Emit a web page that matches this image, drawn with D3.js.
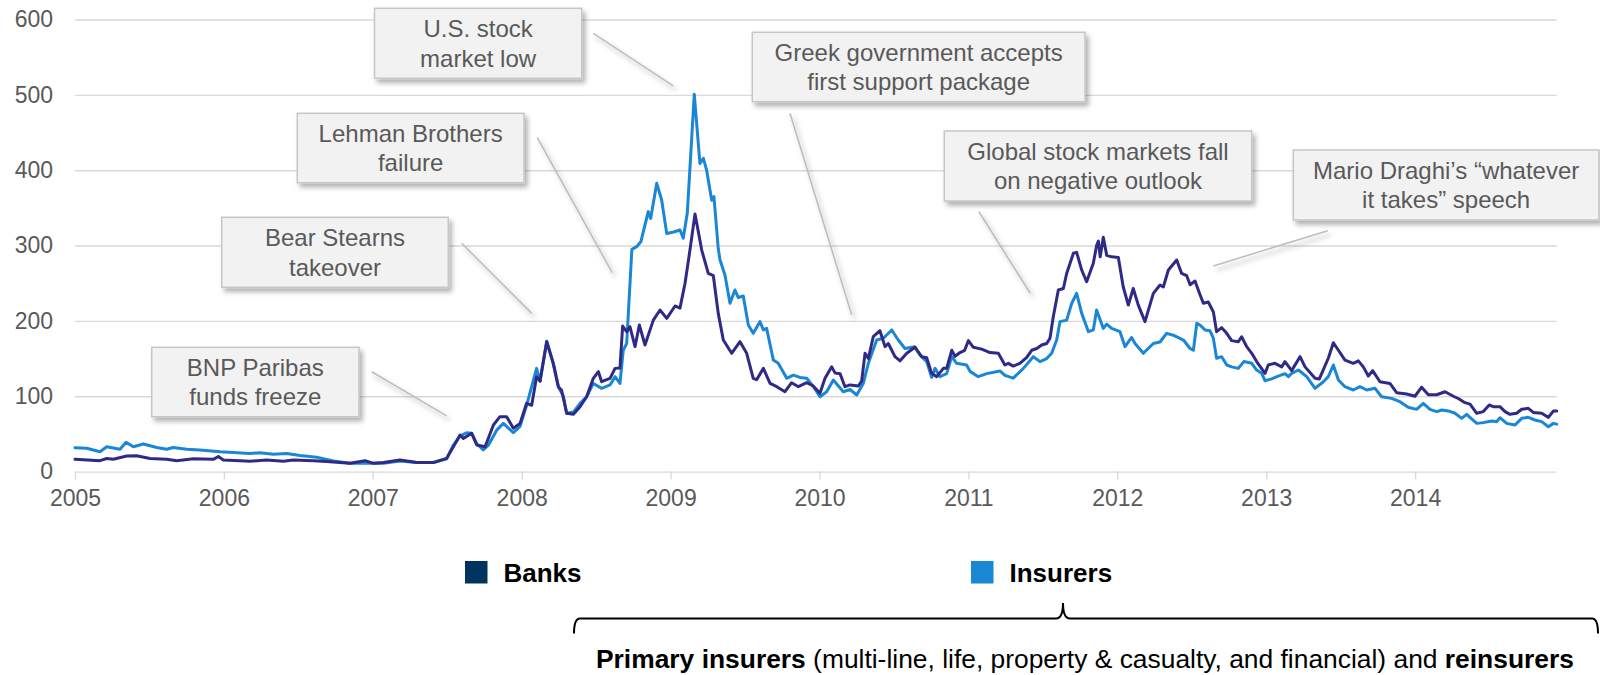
<!DOCTYPE html>
<html>
<head>
<meta charset="utf-8">
<script src="https://cdn.jsdelivr.net/npm/d3@7"></script>
<style>
  html, body { margin: 0; padding: 0; background: #fff; }
  svg { display: block; font-family: "Liberation Sans", Arial, Helvetica, sans-serif; }
</style>
</head>
<body>
<svg id="chart" width="1600" height="675"></svg>
<script>
// ---- Data -------------------------------------------------------------
const yearTicks  = [2005, 2006, 2007, 2008, 2009, 2010, 2011, 2012, 2013, 2014];
const valueTicks = [0, 100, 200, 300, 400, 500, 600];
const seriesNames = ["Banks", "Insurers"];

// Banks: time (decimal year) and index level
const banksYears = [
  2005.000,2005.168,2005.213,2005.257,2005.347,2005.414,2005.504,2005.616,2005.683,2005.795,2005.929,2005.963,2005.996,
  2006.108,2006.175,2006.287,2006.399,2006.466,2006.601,2006.690,2006.847,2006.948,
  2007.004,2007.071,2007.183,2007.295,2007.406,2007.496,2007.541,2007.586,2007.608,2007.664,2007.698,2007.754,2007.810,2007.854,2007.899,2007.944,2007.989,
  2008.033,2008.067,2008.100,2008.123,2008.168,2008.212,2008.246,2008.268,2008.302,2008.347,2008.392,2008.436,2008.481,2008.515,2008.537,2008.593,2008.627,2008.660,2008.678,2008.705,2008.727,2008.761,2008.790,2008.828,2008.884,2008.929,2008.974,
  2009.030,2009.063,2009.097,2009.130,2009.164,2009.209,2009.253,2009.287,2009.320,2009.354,2009.410,2009.466,2009.511,2009.555,2009.578,2009.623,2009.668,2009.713,2009.768,2009.813,2009.858,2009.914,2009.958,
  2010.003,2010.037,2010.082,2010.104,2010.138,2010.171,2010.205,2010.261,2010.283,2010.306,2010.328,2010.361,2010.406,2010.440,2010.462,2010.507,2010.541,2010.586,2010.641,2010.686,2010.720,2010.753,2010.787,2010.832,2010.854,2010.888,2010.910,2010.944,2010.975,
  2011.000,2011.033,2011.089,2011.145,2011.201,2011.245,2011.268,2011.301,2011.346,2011.392,2011.425,2011.459,2011.492,2011.526,2011.548,2011.570,2011.604,2011.638,2011.660,2011.705,2011.727,2011.761,2011.794,2011.839,2011.861,2011.873,2011.885,2011.906,2011.929,2011.962,
  2012.007,2012.040,2012.074,2012.107,2012.141,2012.186,2012.242,2012.287,2012.309,2012.343,2012.399,2012.432,2012.466,2012.489,2012.522,2012.555,2012.578,2012.611,2012.645,2012.667,2012.701,2012.735,2012.768,2012.813,2012.835,2012.869,2012.903,2012.936,2012.992,
  2013.014,2013.059,2013.104,2013.126,2013.171,2013.227,2013.261,2013.328,2013.357,2013.417,2013.451,2013.485,2013.529,2013.585,2013.619,2013.652,2013.686,2013.715,2013.764,2013.831,2013.876,2013.943,2013.999,
  2014.044,2014.089,2014.145,2014.201,2014.257,2014.290,2014.335,2014.369,2014.414,2014.458,2014.498,2014.525,2014.570,2014.604,2014.637,2014.682,2014.716,2014.760,2014.794,2014.850,2014.895,2014.929,2014.951
];
const banksValues = [
  16.3,14.5,17.4,16.3,20.7,21,17.4,16.3,14.5,17,16.3,20,15.5,
  14.5,13.7,15.5,13.7,15.5,14.5,13.3,11,14.5,
  11,12,15.5,12,12,17.6,33,48.6,44,50.8,35.3,33,61.8,72.9,72.9,57.5,64,
  90.6,88,126,120,172.4,143.7,112.7,108,77.4,76,86,99.4,123.8,132.6,119.3,123.8,137,137.5,193.2,185.7,192.3,165.8,194.6,168,201,214.5,203.4,
  219.8,217,250,294,342,294,263,260,210,174.6,157,172.4,157,123.8,122,137,117,112.7,106,118,112.7,118,113.6,
  104,123.8,139,131,130,112.7,115,113.6,120,157,150,179,187,165.8,170,152.5,147,157,165,152.5,151,130.4,126,137,137,161,153,158,161,
  173.8,165,162.5,158,157,141.5,143.7,140,143.7,151.6,161,163.4,168,170,177,205.6,241,243,263,289.7,291,267.5,252,276.5,300,306,285,311,287,285,
  284,245,221,243,221,199,236.6,247.6,245,267.5,280.8,263,260,248,253,235,223.4,225,212,185.7,191,183.5,173.8,172.4,179,165.8,157,146,130.4,
  141.5,143.7,139,145.9,134,152.5,139,123.8,123,150.4,171,161,148,143.7,147,139,126.8,134,119.3,117,104.7,103,100,
  112,102,102,106,100,97,91.5,89.6,77.4,79.6,88.4,86.2,86.2,79.6,76,77.4,82.7,84,78.5,77.4,72,80.4,80.4
];

// Insurers: time (decimal year) and index level
const insurersYears = [
  2005.000,2005.078,2005.168,2005.213,2005.302,2005.343,2005.392,2005.459,2005.549,2005.616,2005.660,2005.750,2005.839,2005.974,
  2006.063,2006.175,2006.242,2006.332,2006.422,2006.511,2006.623,2006.735,2006.847,2006.959,
  2007.071,2007.183,2007.295,2007.406,2007.496,2007.541,2007.586,2007.630,2007.664,2007.698,2007.742,2007.776,2007.832,2007.877,2007.944,2007.989,
  2008.033,2008.100,2008.123,2008.168,2008.212,2008.246,2008.280,2008.302,2008.347,2008.392,2008.436,2008.481,2008.537,2008.593,2008.627,2008.660,2008.682,2008.705,2008.740,2008.772,2008.800,2008.850,2008.866,2008.907,2008.940,2008.974,
  2009.020,2009.063,2009.085,2009.112,2009.159,2009.197,2009.220,2009.242,2009.276,2009.291,2009.320,2009.332,2009.365,2009.399,2009.432,2009.455,2009.488,2009.522,2009.555,2009.600,2009.623,2009.645,2009.690,2009.723,2009.780,2009.824,2009.869,2009.914,2009.958,
  2010.003,2010.048,2010.093,2010.160,2010.205,2010.250,2010.294,2010.328,2010.384,2010.429,2010.485,2010.529,2010.574,2010.641,2010.675,2010.720,2010.753,2010.776,2010.809,2010.854,2010.888,2010.921,2010.988,
  2011.011,2011.066,2011.123,2011.212,2011.245,2011.301,2011.369,2011.436,2011.481,2011.526,2011.559,2011.593,2011.615,2011.660,2011.694,2011.727,2011.761,2011.806,2011.839,2011.861,2011.906,2011.929,2011.962,
  2012.018,2012.052,2012.096,2012.119,2012.175,2012.242,2012.287,2012.331,2012.376,2012.444,2012.489,2012.511,2012.534,2012.555,2012.589,2012.622,2012.645,2012.667,2012.701,2012.735,2012.768,2012.813,2012.850,2012.903,2012.936,2012.970,2012.992,
  2013.036,2013.081,2013.126,2013.149,2013.171,2013.216,2013.272,2013.328,2013.384,2013.417,2013.451,2013.485,2013.529,2013.585,2013.630,2013.675,2013.731,2013.775,2013.842,2013.898,2013.954,
  2014.010,2014.055,2014.100,2014.145,2014.180,2014.223,2014.268,2014.313,2014.346,2014.414,2014.458,2014.514,2014.547,2014.570,2014.615,2014.671,2014.716,2014.760,2014.805,2014.850,2014.895,2014.929,2014.951
];
const insurersValues = [
  31.7,31,26.4,33,29.6,38.9,33,36.7,32,29.6,32,29.6,28.7,26.4,
  25.5,23.9,25,23,24,21.3,19,14,11,11,
  11,14,12,12,17,35,47,51.6,51,37,28.7,35,55,64,51.6,60,
  88,137,120,173,143.7,112.7,100,77.4,79,90.6,99.4,117,110.5,115,126,117,161,170,295,298.5,305,345,336,382.6,360.4,316,
  318,320.6,309.6,342.8,500.7,409,415.8,400,360,365,296,280.8,261,223.4,241,231,233,194.6,183.5,199,188,190,148,143.7,123.8,128,125,124,113,
  99.4,106,121.6,106,109,101.7,117,143.7,174.6,177,188,174.6,163.4,165.8,154.8,145.9,125,137,126,130,152.5,143.7,141.5,
  133,126,130,133.6,127.7,124,137,152.5,145.9,150,157,174.6,199,201,223.4,236.6,210,185.7,188,214.5,190,195.8,190,
  185.7,165.8,178,170,157,170,172,183.5,181,174.6,163.4,161,196.8,194.6,188,187,177,150.4,152.5,141.5,139,137,146,143.7,134.8,130.4,120.6,
  123,126.8,130,126,130.4,134.8,126,110.5,119.3,126,141.5,121.6,112.7,108.3,112.7,108.3,110.5,99.4,97.2,92.8,85.3,
  82.6,90.6,82.6,79.6,81.8,80.5,77.4,70.7,76,64,65,67.2,66.3,71.5,64,61.8,70.7,72,68.5,66.3,59.6,64,63
];

// Events: label lines and the (year, level) each leader line points at
const eventLabels = [
  ["U.S. stock", "market low"],
  ["Lehman Brothers", "failure"],
  ["Bear Stearns", "takeover"],
  ["BNP Paribas", "funds freeze"],
  ["Greek government accepts", "first support package"],
  ["Global stock markets fall", "on negative outlook"],
  ["Mario Draghi\u2019s \u201cwhatever", "it takes\u201d speech"]
];
const eventAnchors = [
  [2009.018, 512], [2008.608, 264], [2008.067, 210], [2007.496, 74],
  [2010.216, 208], [2011.414, 237], [2012.645, 273]
];

// ---- Layout -----------------------------------------------------------
const W = 1600, H = 675;
const plotLeft = 75, plotRight = 1556.7, plotTop = 19.5, plotBottom = 471.6;
// callout boxes [x0, y0, x1, y1] and the point where each leader leaves its box
const calloutBoxes = [
  [374.5, 8.3, 581.7, 78.3],
  [297.3, 113.3, 524, 182.7],
  [221.7, 217.3, 448.3, 287.3],
  [151.7, 347.3, 359, 416.7],
  [752.3, 32.3, 1085, 101.7],
  [944.3, 131, 1251.7, 201],
  [1293.3, 150, 1599, 220]
];
const leaderStarts = [
  [593.3, 33.3], [537.3, 137.7], [461.7, 243.3], [371.7, 371.7],
  [790, 113.3], [979, 211.7], [1327.7, 230.7]
];

const colors = { banksLine: "#2f2a86", insurersLine: "#1a86d6", banksKey: "#00345f", insurersKey: "#1a86d6" };

const svg = d3.select("#chart");

const x = d3.scaleLinear().domain([2005, 2014.951]).range([plotLeft, plotRight]);
const y = d3.scaleLinear().domain([0, 600]).range([plotBottom, plotTop]);

// soft drop shadow used by callouts and their leader lines
const defs = svg.append("defs");
const shadow = defs.append("filter").attr("id", "soft-shadow")
  .attr("filterUnits", "userSpaceOnUse")
  .attr("x", 0).attr("y", 0).attr("width", W).attr("height", H);
shadow.append("feDropShadow")
  .attr("dx", 3).attr("dy", 4).attr("stdDeviation", 2.5)
  .attr("flood-color", "#000").attr("flood-opacity", 0.3);

// ---- Axes and grid ----------------------------------------------------
const yAxis = d3.axisLeft(y).tickValues(valueTicks).tickSize(-(plotRight - plotLeft)).tickPadding(22);
svg.append("g")
  .attr("transform", `translate(${plotLeft},0)`)
  .call(yAxis)
  .call(g => {
    g.attr("font-family", null).attr("font-size", null);
    g.select(".domain").remove();
    g.selectAll(".tick line").attr("stroke", "#d9d9d9").attr("stroke-width", 1.4);
    g.selectAll(".tick text").attr("fill", "#595959").style("font-size", "23px");
  });

const xAxis = d3.axisBottom(x).tickValues(yearTicks).tickFormat(d3.format("d")).tickSize(8).tickPadding(10);
svg.append("g")
  .attr("transform", `translate(0,${plotBottom})`)
  .call(xAxis)
  .call(g => {
    g.attr("font-family", null).attr("font-size", null);
    g.select(".domain").remove();
    g.selectAll(".tick line").attr("stroke", "#d9d9d9").attr("stroke-width", 1.4);
    g.selectAll(".tick text").attr("fill", "#595959").style("font-size", "23px");
  });

// ---- Series lines -----------------------------------------------------
const line = d3.line().x(d => x(d[0])).y(d => y(d[1]));
const banks = d3.zip(banksYears, banksValues);
const insurers = d3.zip(insurersYears, insurersValues);

svg.append("path").datum(insurers)
  .attr("d", line).attr("fill", "none")
  .attr("stroke", colors.insurersLine).attr("stroke-width", 3)
  .attr("stroke-linejoin", "round").attr("stroke-linecap", "round");

svg.append("path").datum(banks)
  .attr("d", line).attr("fill", "none")
  .attr("stroke", colors.banksLine).attr("stroke-width", 3)
  .attr("stroke-linejoin", "round").attr("stroke-linecap", "round");

// ---- Event callouts ---------------------------------------------------
const callouts = svg.append("g").attr("class", "callouts");
eventLabels.forEach((lines, i) => {
  const [sx, sy] = leaderStarts[i];
  const [ay, av] = eventAnchors[i];
  callouts.append("line")
    .attr("x1", sx).attr("y1", sy).attr("x2", x(ay)).attr("y2", y(av))
    .attr("stroke", "#bdbdbd").attr("stroke-width", 1.6)
    .attr("filter", "url(#soft-shadow)");
});
eventLabels.forEach((lines, i) => {
  const [x0, y0, x1, y1] = calloutBoxes[i];
  const g = callouts.append("g");
  g.append("rect")
    .attr("x", x0).attr("y", y0).attr("width", x1 - x0).attr("height", y1 - y0)
    .attr("fill", "#f2f2f2").attr("stroke", "#c6c6c6").attr("stroke-width", 1.5)
    .attr("filter", "url(#soft-shadow)");
  const cx = (x0 + x1) / 2, cy = (y0 + y1) / 2;
  const lh = 29.5;
  g.append("text")
    .attr("x", cx).attr("text-anchor", "middle")
    .attr("fill", "#595959").style("font-size", "24px")
    .selectAll("tspan").data(lines).join("tspan")
      .attr("x", cx)
      .attr("y", (d, k) => cy + (k - (lines.length - 1) / 2) * lh + 8.5)
      .text(d => d);
});

// ---- Legend -----------------------------------------------------------
const legendItems = [
  { name: seriesNames[0], color: colors.banksKey, x: 465 },
  { name: seriesNames[1], color: colors.insurersKey, x: 971 }
];
const legend = svg.append("g").attr("class", "legend");
legendItems.forEach(d => {
  legend.append("rect").attr("x", d.x).attr("y", 561).attr("width", 22.5).attr("height", 22.5).attr("fill", d.color);
  legend.append("text").attr("x", d.x + 38.5).attr("y", 581.7)
    .attr("fill", "#000").style("font-size", "26px").style("font-weight", "bold").text(d.name);
});

// ---- Brace and insurer-group note -------------------------------------
svg.append("path")
  .attr("d", "M574,633.5 Q574,618.5 580,618.5 L1056,618.5 Q1063,618.5 1063,603 Q1063,618.5 1070,618.5 L1592,618.5 Q1598,618.5 1598,633.5")
  .attr("fill", "none").attr("stroke", "#000").attr("stroke-width", 2);

const note = svg.append("text").attr("x", 596).attr("y", 668).attr("fill", "#000").style("font-size", "26.4px");
note.append("tspan").style("font-weight", "bold").text("Primary insurers");
note.append("tspan").text(" (multi-line, life, property & casualty, and financial) and ");
note.append("tspan").style("font-weight", "bold").text("reinsurers");
</script>
</body>
</html>
